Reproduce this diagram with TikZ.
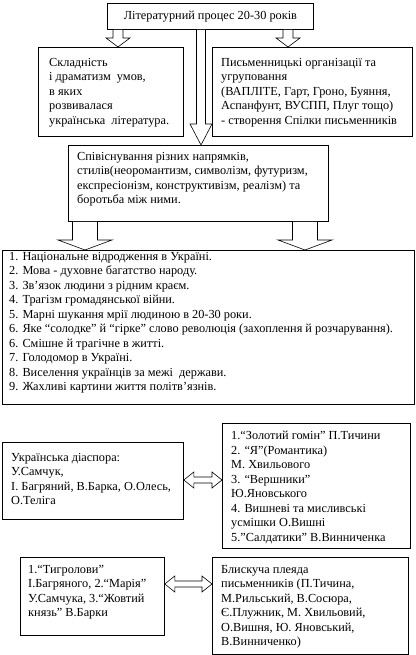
\documentclass[tikz,border=0pt]{standalone}
\usepackage{fontspec}
\setmainfont{Liberation Serif}
\usetikzlibrary{calc}
\tikzset{
  box/.style={draw, line width=0.8pt, fill=white, anchor=north west, inner sep=0pt},
  txt/.style={anchor=north west, align=left, inner sep=0pt, font=\fontsize{12.3}{14.5}\selectfont},
  barrow/.style={draw, line width=0.6pt, fill=white, line join=miter},
}
\newcommand\blkdown[6]{%
  \draw[barrow] let \p1=(#1), \p2=(#2) in
    (#3pt-#4pt,\y1) -- (#3pt-#4pt,\y2+#6pt) -- (#3pt-#5pt,\y2+#6pt) -- (#3pt,\y2)
    -- (#3pt+#5pt,\y2+#6pt) -- (#3pt+#4pt,\y2+#6pt) -- (#3pt+#4pt,\y1);}
\newcommand\blkdouble[6]{%
  \draw[barrow] let \p1=(#1), \p2=(#2), \p3=(0,#3) in
    (\x1,\y3) -- (\x1+#6pt,\y3+#5pt) -- (\x1+#6pt,\y3+#4pt) -- (\x2-#6pt,\y3+#4pt)
    -- (\x2-#6pt,\y3+#5pt) -- (\x2,\y3) -- (\x2-#6pt,\y3-#5pt) -- (\x2-#6pt,\y3-#4pt)
    -- (\x1+#6pt,\y3-#4pt) -- (\x1+#6pt,\y3-#5pt) -- cycle;}
\begin{document}
\begin{tikzpicture}[x=1pt,y=-1pt]
\useasboundingbox[fill=white] (0,0) rectangle (415,655);

% top
\node[box, minimum width=206pt, minimum height=26pt, font=\fontsize{12.3}{14.5}\selectfont] (T) at (107,3) {Літературний процес 20-30 років};

% second row
\node[box, minimum width=145pt, minimum height=89pt] (L) at (38,47) {};
\node[txt] (Lt) at (49,58) {Складність\\і драматизм\ \ умов,\\в яких\\розвивалася\\українська\ \ література.};
\node[box, minimum width=200pt, minimum height=89pt] (R) at (212,47) {};
\node[txt] (Rt) at (221,58) {Письменницькі організації та\\угруповання\\(ВАПЛІТЕ, Гарт, Гроно, Буяння,\\Аспанфунт, ВУСПП, Плуг тощо)\\- створення Спілки письменників};

% middle
\node[box, minimum width=260pt, minimum height=76pt] (M) at (68,145) {};
\node[txt] (Mt) at (77,152) {Співіснування різних напрямків,\\стилів(неоромантизм, символізм, футуризм,\\експресіонізм, конструктивізм, реалізм) та\\боротьба між ними.};

% list
\node[box, minimum width=412pt, minimum height=154pt] (N) at (2,250) {};
\node[txt] (Nt) at (9,252) {1. Національне відродження в Україні.\\
2. Мова - духовне багатство народу.\\
3. Зв’язок людини з рідним краєм.\\
4. Трагізм громадянської війни.\\
5. Марні шукання мрії людиною в 20-30 роки.\\
6. Яке “солодке” й “гірке” слово революція (захоплення й розчарування).\\
6. Смішне й трагічне в житті.\\
7. Голодомор в Україні.\\
8. Виселення українців за межі\ \ держави.\\
9. Жахливі картини життя політв’язнів.};

% diaspora row
\node[box, minimum width=181pt, minimum height=77pt] (D) at (2,442) {};
\node[txt] (Dt) at (11,453) {Українська діаспора:\\У.Самчук,\\І. Багряний, В.Барка, О.Олесь,\\О.Теліга};
\node[box, minimum width=188pt, minimum height=125pt] (W) at (222,423) {};
\node[txt] (Wt) at (231,431) {1.“Золотий гомін” П.Тичини\\2. “Я”(Романтика)\\М. Хвильового\\3. “Вершники”\\Ю.Яновського\\4. Вишневі та мисливські\\усмішки О.Вишні\\5.”Салдатики” В.Винниченка};

% bottom row
\node[box, minimum width=144pt, minimum height=78pt] (BL) at (20,557) {};
\node[txt] (BLt) at (28,565) {1.“Тигролови”\\І.Багряного, 2.“Марія”\\У.Самчука, 3.“Жовтий\\князь” В.Барки};
\node[box, minimum width=196pt, minimum height=97pt] (BR) at (212,557) {};
\node[txt] (BRt) at (221,565) {Блискуча плеяда\\письменників (П.Тичина,\\М.Рильський, В.Сосюра,\\Є.Плужник, М. Хвильовий,\\О.Вишня, Ю. Яновський,\\В.Винниченко)};

% arrows
\blkdown{T.south}{L.north}{118}{5}{12}{9}
\blkdown{T.south}{R.north}{288}{5}{12}{9}
\blkdown{T.south}{M.north}{201}{4.5}{11}{21}
\blkdown{M.south}{N.north}{85}{12.5}{27}{10}
\blkdown{M.south}{N.north}{305}{12.5}{27}{10}
\blkdouble{D.east}{W.west}{480}{3}{8}{10}
\blkdouble{BL.east}{BR.west}{584}{3}{8}{10}
\end{tikzpicture}
\end{document}
